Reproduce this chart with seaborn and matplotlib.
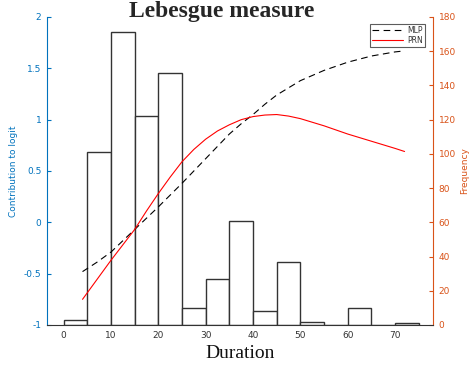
import numpy as np
import pandas as pd
import matplotlib
matplotlib.use("Agg")
import matplotlib.pyplot as plt
import seaborn as sns

# ---- data ----
bin_edges = [0, 5, 10, 15, 20, 25, 30, 35, 40, 45, 50, 55, 60, 65, 70, 75]
bin_counts = [3, 101, 171, 122, 147, 10, 27, 61, 8, 37, 2, 0, 10, 0, 1]

curve_x = [4, 7, 10, 12.5, 15, 17.5, 20, 22.5, 25, 27.5, 30, 32.5, 35, 37.5, 40, 42.5,
           45, 47.5, 50, 55, 60, 65, 70, 72]
mlp_vals = [-0.48, -0.39, -0.29, -0.18, -0.07, 0.04, 0.15, 0.265, 0.38, 0.50, 0.62, 0.74,
            0.86, 0.96, 1.05, 1.15, 1.24, 1.31, 1.38, 1.48, 1.56, 1.62, 1.66, 1.67]
prn_vals = [-0.75, -0.56, -0.37, -0.22, -0.07, 0.11, 0.28, 0.44, 0.59, 0.71, 0.81, 0.89,
            0.95, 1.00, 1.03, 1.045, 1.05, 1.035, 1.01, 0.94, 0.86, 0.79, 0.72, 0.69]

x_ticks = [0, 10, 20, 30, 40, 50, 60, 70]
left_ticks = [-1, -0.5, 0, 0.5, 1, 1.5, 2]
left_tick_labels = ["-1", "-0.5", "0", "0.5", "1", "1.5", "2"]
right_ticks = [0, 20, 40, 60, 80, 100, 120, 140, 160, 180]

BLUE = "#0072BD"
ORANGE = "#D95319"

sns.set_style("white")
plt.rcParams['font.family'] = ['DejaVu Sans']

fig = plt.figure(figsize=(4.71, 3.70), dpi=100)
ax1 = fig.add_axes([47/471, 1-325/370, (433-47)/471, (325-17)/370])
ax2 = ax1.twinx()

# histogram on frequency axis
centers = [(bin_edges[i] + bin_edges[i+1]) / 2 for i in range(len(bin_counts))]
hist_df = pd.DataFrame({"dur": centers, "cnt": bin_counts})
sns.histplot(data=hist_df, x="dur", weights="cnt", bins=bin_edges, ax=ax2,
             color="white", edgecolor="#333333", linewidth=1.0, alpha=1.0)

# lines on logit axis
line_df = pd.DataFrame({"x": curve_x * 2,
                        "y": mlp_vals + prn_vals,
                        "model": ["MLP"] * len(curve_x) + ["PRN"] * len(curve_x)})
sns.lineplot(data=line_df[line_df.model == "MLP"], x="x", y="y", ax=ax1,
             color="black", linestyle=(0, (6, 4)), linewidth=0.8, label="MLP")
sns.lineplot(data=line_df[line_df.model == "PRN"], x="x", y="y", ax=ax1,
             color="red", linewidth=0.8, label="PRN")

ax1.set_zorder(ax2.get_zorder() + 1)
ax1.patch.set_visible(False)

ax1.set_xlim(-3.5, 78)
ax1.set_ylim(-1, 2)
ax2.set_ylim(0, 180)

ax1.set_xticks(x_ticks)
ax1.set_xticklabels([str(t) for t in x_ticks], fontsize=6.5, color="#333333")
ax1.set_yticks(left_ticks)
ax1.set_yticklabels(left_tick_labels, fontsize=6.5, color=BLUE)
ax2.set_yticks(right_ticks)
ax2.set_yticklabels([str(t) for t in right_ticks], fontsize=6.5, color=ORANGE)

ax1.tick_params(axis='x', direction='in', length=3, colors="#333333", labelcolor="#333333", pad=4)
ax1.tick_params(axis='y', direction='in', length=3, colors=BLUE, labelcolor=BLUE, pad=4)
ax2.tick_params(axis='y', direction='in', length=3, colors=ORANGE, labelcolor=ORANGE, pad=4)
ax2.tick_params(axis='x', bottom=False, labelbottom=False)

for ax in (ax1, ax2):
    ax.spines['top'].set_visible(False)
ax1.spines['left'].set_color(BLUE)
ax1.spines['right'].set_visible(False)
ax1.spines['bottom'].set_color("#333333")
ax2.spines['left'].set_visible(False)
ax2.spines['bottom'].set_visible(False)
ax2.spines['right'].set_color(ORANGE)
for s in ax1.spines.values():
    s.set_linewidth(0.8)
ax2.spines['right'].set_linewidth(0.8)

ax1.set_xlabel("Duration", fontsize=14, family=['Liberation Serif'], color="#111111", labelpad=4)
ax1.set_ylabel("Contribution to logit", fontsize=6.5, color=BLUE, labelpad=4)
ax2.set_ylabel("Frequency", fontsize=6.5, color=ORANGE, labelpad=3)

fig.text(222/471, 1-12/370, "Lebesgue measure", ha="center", va="center",
         fontsize=17, fontweight="bold", family=['Liberation Serif'])

leg = ax1.legend(loc="upper right", bbox_to_anchor=(0.985, 0.985), fontsize=5.5,
                 frameon=True, fancybox=False, edgecolor="#333333",
                 handlelength=4.0, borderpad=0.25, labelspacing=0.15, handletextpad=0.6,
                 borderaxespad=0.3)
leg.get_frame().set_linewidth(0.8)
for t in leg.get_texts():
    t.set_color("#333333")

fig.savefig("out.png", dpi=100)
